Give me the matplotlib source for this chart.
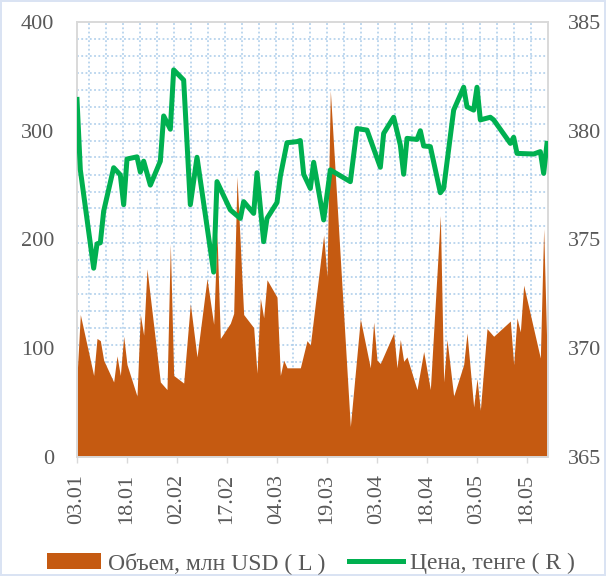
import datetime as dt

import matplotlib

matplotlib.use("Agg")
import matplotlib.dates as mdates
import matplotlib.pyplot as plt
import numpy as np
from matplotlib.lines import Line2D
from matplotlib.patches import Patch

plt.rcParams["font.family"] = ["Liberation Serif", "DejaVu Serif"]

# volume, mln USD (left axis)
vol_dates = [
    "03.01", "04.01", "08.01", "09.01", "10.01", "11.01", "14.01", "15.01", "16.01",
    "17.01", "18.01", "21.01", "22.01", "23.01", "24.01", "28.01", "30.01", "31.01",
    "01.02", "04.02", "06.02", "08.02", "11.02", "13.02", "14.02", "15.02", "18.02",
    "19.02", "20.02", "22.02", "25.02", "26.02", "27.02", "28.02", "01.03", "04.03",
    "05.03", "06.03", "07.03", "11.03", "13.03", "14.03", "18.03", "19.03", "20.03",
    "26.03", "29.03", "01.04", "02.04", "03.04", "04.04", "08.04", "09.04", "10.04",
    "11.04", "12.04", "15.04", "17.04", "19.04", "22.04", "23.04", "24.04", "26.04",
    "29.04", "30.04", "02.05", "03.05", "04.05", "06.05", "08.05", "13.05", "14.05",
    "15.05", "16.05", "17.05", "22.05", "23.05", "24.05",
]
vol_values = [
    74, 131, 75, 109, 107, 89, 69, 93, 75,
    111, 85, 56, 131, 112, 173, 69, 62, 196,
    75, 68, 141, 92, 164, 122, 205, 109, 123,
    132, 258, 131, 119, 77, 146, 128, 163, 147,
    75, 89, 82, 82, 107, 103, 204, 166, 337,
    28, 127, 82, 124, 89, 86, 114, 82, 108,
    88, 92, 62, 97, 62, 222, 69, 108, 56,
    85, 114, 46, 72, 43, 118, 111, 125, 85,
    128, 115, 158, 91, 210, 95,
]

# price, tenge (right axis)
price_dates = [
    "03.01", "04.01", "08.01", "09.01", "10.01", "11.01", "14.01", "16.01", "17.01",
    "18.01", "21.01", "22.01", "23.01", "25.01", "28.01", "29.01", "31.01", "01.02",
    "04.02", "06.02", "08.02", "13.02", "14.02", "18.02", "21.02", "22.02", "25.02",
    "26.02", "28.02", "01.03", "04.03", "05.03", "07.03", "10.03", "11.03", "12.03",
    "14.03", "15.03", "18.03", "20.03", "26.03", "28.03", "31.03", "04.04", "05.04",
    "08.04", "10.04", "11.04", "12.04", "15.04", "16.04", "17.04", "19.04", "22.04",
    "23.04", "26.04", "29.04", "30.04", "02.05", "03.05", "04.05", "07.05", "08.05",
    "13.05", "14.05", "15.05", "20.05", "22.05", "23.05", "24.05",
]
price_values = [
    381.44, 378.2, 373.68, 374.8, 374.85, 376.3, 378.3, 377.97, 376.6,
    378.7, 378.8, 378.1, 378.6, 377.5, 378.6, 380.68, 380.07, 382.8,
    382.33, 376.6, 378.78, 373.5, 377.66, 376.36, 375.97, 376.74, 376.2,
    378.07, 374.9, 375.97, 376.7, 377.9, 379.45, 379.5, 379.55, 378.0,
    377.35, 378.55, 375.9, 378.2, 377.66, 380.1, 380.03, 378.32, 379.88,
    380.62, 379.34, 378.0, 379.65, 379.6, 380.0, 379.3, 379.27, 377.15,
    377.35, 380.95, 382.0, 381.1, 380.95, 382.0, 380.5, 380.62, 380.5,
    379.42, 379.7, 378.96, 378.93, 379.04, 378.04, 379.42,
]

YEAR = 2018
ORANGE = "#C55A11"
GREEN = "#00B050"
TEXT = "#595959"
GRID = "#A9CBEA"
BORDER = "#D9D9D9"


def to_date(s):
    d, m = s.split(".")
    return dt.datetime(YEAR, int(m), int(d))


vx = [to_date(s) for s in vol_dates]
px = [to_date(s) for s in price_dates]

fig = plt.figure(figsize=(6.06, 5.76), dpi=100)
fig.patch.set_edgecolor("#DAE3F3")
fig.patch.set_linewidth(1.5)

ax = fig.add_axes([77 / 606, 119 / 576, 471 / 606, 435 / 576])
ax2 = ax.twinx()

# Excel-style dotted pattern fill behind the plot
w_px, h_px = 471, 435
for xp in np.arange(12, w_px, 17):
    ax.plot([xp / w_px] * 2, [0, 1], transform=ax.transAxes, color=GRID,
            lw=1.1, ls=(0, (1.2, 1.6)), zorder=0)
for yp in np.arange(16.5, h_px, 17):
    ax.plot([0, 1], [1 - yp / h_px] * 2, transform=ax.transAxes, color=GRID,
            lw=1.1, ls=(0, (1.2, 1.6)), zorder=0)

ax.fill_between(vx, vol_values, 0, color=ORANGE, lw=0, zorder=2)
ax2.plot(px, price_values, color=GREEN, lw=3.6, solid_joinstyle="round", zorder=3)

start = to_date("03.01")
ax.set_xlim(start, start + dt.timedelta(days=141.3))
ax.set_ylim(0, 400)
ax2.set_ylim(365, 385)

ax.set_xticks([start + dt.timedelta(days=15 * k) for k in range(10)])
ax.xaxis.set_major_formatter(mdates.DateFormatter("%d.%m"))
ax.set_yticks(np.arange(0, 401, 100))
ax2.set_yticks(np.arange(365, 386, 5))

ax.tick_params(axis="x", labelrotation=90, labelsize=16, labelcolor=TEXT,
               color=BORDER, length=4.5, width=1, pad=8)
ax.tick_params(axis="y", labelsize=16, labelcolor=TEXT, length=0, pad=16.5)
ax2.tick_params(axis="y", labelsize=16, labelcolor=TEXT, length=0, pad=14)

for a in (ax, ax2):
    for sp in a.spines.values():
        sp.set_color(BORDER)
        sp.set_linewidth(1.2)

handles = [
    Patch(facecolor=ORANGE, edgecolor="none", label="Объем, млн USD ( L )"),
    Line2D([], [], color=GREEN, lw=3.6, label="Цена, тенге ( R )"),
]
fig.legend(handles=handles, loc="center", bbox_to_anchor=(0.513, 0.022),
           ncol=2, frameon=False, fontsize=17, labelcolor=TEXT,
           handlelength=2.3, handleheight=0.7, handletextpad=0.3,
           columnspacing=1.0)

fig.savefig("out.png", dpi=100)
